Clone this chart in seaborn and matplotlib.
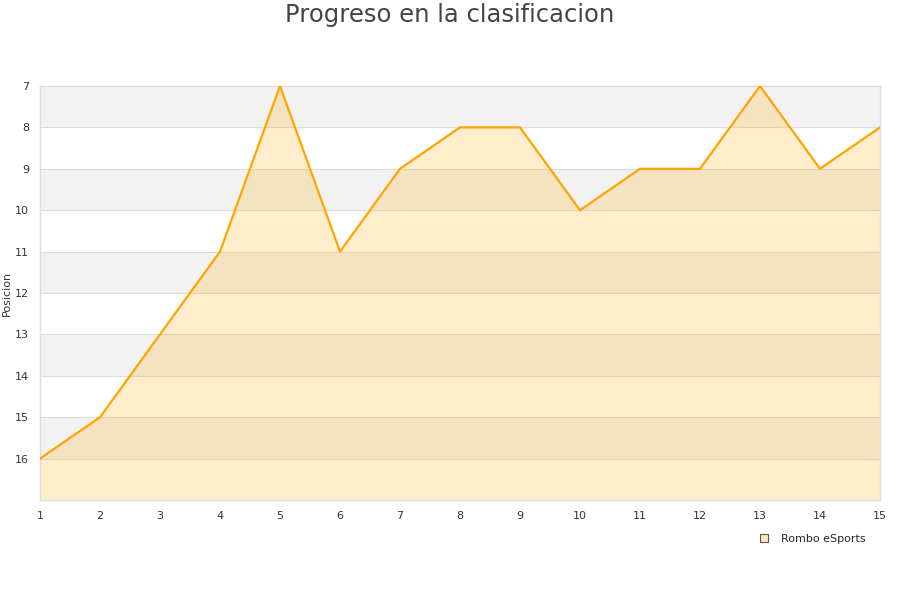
import numpy as np
import pandas as pd
import matplotlib
matplotlib.use("Agg")
import matplotlib.pyplot as plt
import seaborn as sns
from matplotlib.lines import Line2D

jornadas = list(range(1, 16))
posicion = [16, 15, 13, 11, 7, 11, 9, 8, 8, 10, 9, 9, 7, 9, 8]
equipo = "Rombo eSports"

df = pd.DataFrame({"Jornada": jornadas, "Posicion": posicion})

sns.set_style("white")
plt.rcParams['font.family'] = ['DejaVu Sans']

fig = plt.figure(figsize=(9, 6), dpi=100)
ax = fig.add_axes([40 / 900, 1 - 500 / 600, 840 / 900, 414 / 600])

# alternating bands
for y0 in range(7, 17, 2):
    ax.axhspan(y0, y0 + 1, color="#f2f2f2", zorder=0, lw=0)
for y in range(8, 17):
    ax.axhline(y, color="#dddddd", lw=0.8, zorder=1)

ax.fill_between(df["Jornada"], df["Posicion"], 17, color="#ffa500", alpha=0.2, lw=0, zorder=2)
sns.lineplot(data=df, x="Jornada", y="Posicion", color="#ffa500", lw=1.6, ax=ax, zorder=3)

ax.set_xlim(1, 15)
ax.set_ylim(17, 7)
ax.set_xticks(jornadas)
ax.set_yticks(range(7, 17))
ax.tick_params(axis="both", labelsize=8, colors="#333333", length=0, pad=8)
ax.tick_params(axis="y", pad=8)
ax.set_xlabel("")
ax.set_ylabel("Posicion", fontsize=8, color="#333333", labelpad=2)
for s in ax.spines.values():
    s.set_color("#dddddd")
    s.set_linewidth(1)

fig.text(0.5, 1 - 15 / 600, "Progreso en la clasificacion", ha="center", va="center",
         fontsize=17.5, color="#444444")

handle = Line2D([], [], marker="s", ls="", markersize=6, markerfacecolor="#ffe8c0",
                markeredgecolor="#555555", markeredgewidth=0.8)
fig.legend([handle], [equipo], loc="center", bbox_to_anchor=(809 / 900, 1 - 539 / 600),
           frameon=False, fontsize=8, handletextpad=0.5)

fig.savefig("out.png", dpi=100)
